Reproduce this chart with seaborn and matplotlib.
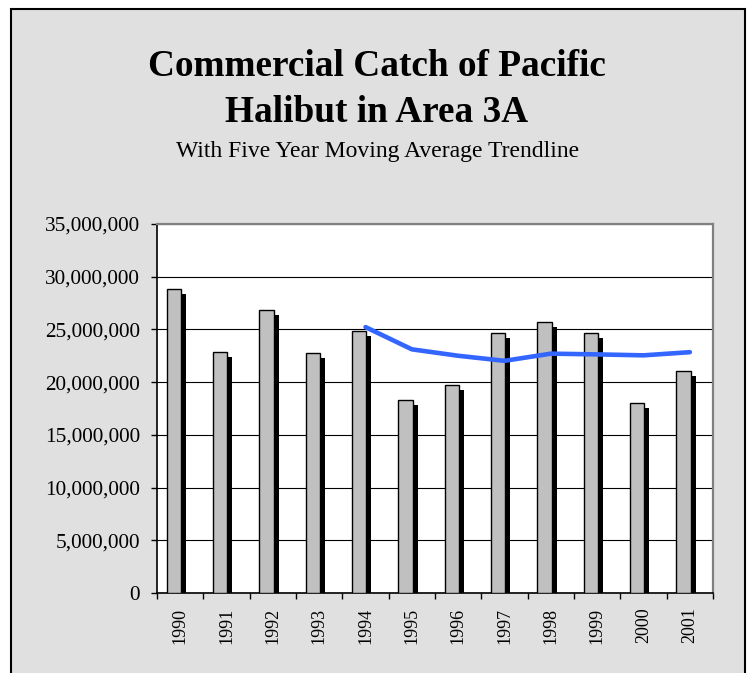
import matplotlib
matplotlib.use("Agg")
import matplotlib.pyplot as plt
import matplotlib.patheffects as pe
from matplotlib.patches import Rectangle
from matplotlib.ticker import FuncFormatter
import seaborn as sns
import pandas as pd

# Pacific halibut commercial catch, Area 3A (pounds)
years = [1990, 1991, 1992, 1993, 1994, 1995, 1996, 1997, 1998, 1999, 2000, 2001]
catch = [28870000, 22880000, 26800000, 22760000, 24810000, 18320000,
         19680000, 24620000, 25700000, 24660000, 18060000, 21070000]

# five year moving average, as drawn
trend_years = [1994, 1995, 1996, 1997, 1998, 1999, 2000, 2001]
trend = [25220000, 23110000, 22500000, 22020000, 22700000, 22630000, 22540000, 22840000]

df = pd.DataFrame({"Year": years, "Catch": catch})

sns.set_style("white")
plt.rcParams["font.family"] = ["Liberation Serif", "DejaVu Serif"]
plt.rcParams["text.color"] = "black"
plt.rcParams["xtick.color"] = "black"
plt.rcParams["ytick.color"] = "black"

fig = plt.figure(figsize=(7.47, 6.73), dpi=100, facecolor="white")

# grey chart area with black frame (bottom edge runs off the image)
fig.add_artist(Rectangle((11 / 747, -0.05), 734 / 747, 664 / 673 + 0.05,
                         transform=fig.transFigure, facecolor="#E0E0E0",
                         edgecolor="black", lw=1.5, zorder=0))

ax = fig.add_axes([0.2102, 0.1189, 0.7443, 0.5483])
ax.set_facecolor("white")

sns.barplot(data=df, x="Year", y="Catch", native_scale=True, width=0.31,
            color="#C0C0C0", saturation=1, edgecolor="black", linewidth=1.0,
            errorbar=None, ax=ax, zorder=3)

shadow = [pe.SimplePatchShadow(offset=(3.6, -3.6), shadow_rgbFace="black", alpha=1.0),
          pe.Normal()]
for bar in ax.patches:
    bar.set_x(bar.get_x() - 0.137)
    bar.set_path_effects(shadow)

sns.lineplot(x=trend_years, y=trend, color="#3366FF", lw=3.3, ax=ax,
             zorder=5, solid_capstyle="round")

ax.set_xlim(1989.5, 2001.5)
ax.set_ylim(0, 35000000)
ax.set_yticks(range(0, 35000001, 5000000))
ax.yaxis.set_major_formatter(FuncFormatter(lambda v, p: f"{v:,.0f}"))
ax.set_xticks(years)
ax.set_xticklabels([str(y) for y in years], rotation=90)
ax.set_xticks([y - 0.5 for y in years] + [2001.5], minor=True)

ax.yaxis.grid(True, color="black", lw=0.8)
ax.set_axisbelow(True)

ax.tick_params(axis="y", direction="out", length=4.3, width=1, pad=8,
               labelsize=15.3, colors="black", left=True)
ax.tick_params(axis="x", which="major", length=0, pad=10.5, labelsize=13,
               labelcolor="black")
ax.tick_params(axis="x", which="minor", direction="out", length=4.3, width=1,
               bottom=True, color="black")

ax.set_xlabel("")
ax.set_ylabel("")

for side in ["left", "bottom"]:
    ax.spines[side].set_color("black")
    ax.spines[side].set_linewidth(1.2)
for side in ["top", "right"]:
    ax.spines[side].set_color("#808080")
    ax.spines[side].set_linewidth(1.6)

fig.text(0.5047, 0.8871, "Commercial Catch of Pacific", ha="center",
         va="baseline", fontsize=26.8, fontweight="bold", color="black")
fig.text(0.5047, 0.8192, "Halibut in Area 3A", ha="center",
         va="baseline", fontsize=26.8, fontweight="bold", color="black")
fig.text(0.5054, 0.7672, "With Five Year Moving Average Trendline",
         ha="center", va="baseline", fontsize=17, color="black")

fig.savefig("out.png", dpi=100)
